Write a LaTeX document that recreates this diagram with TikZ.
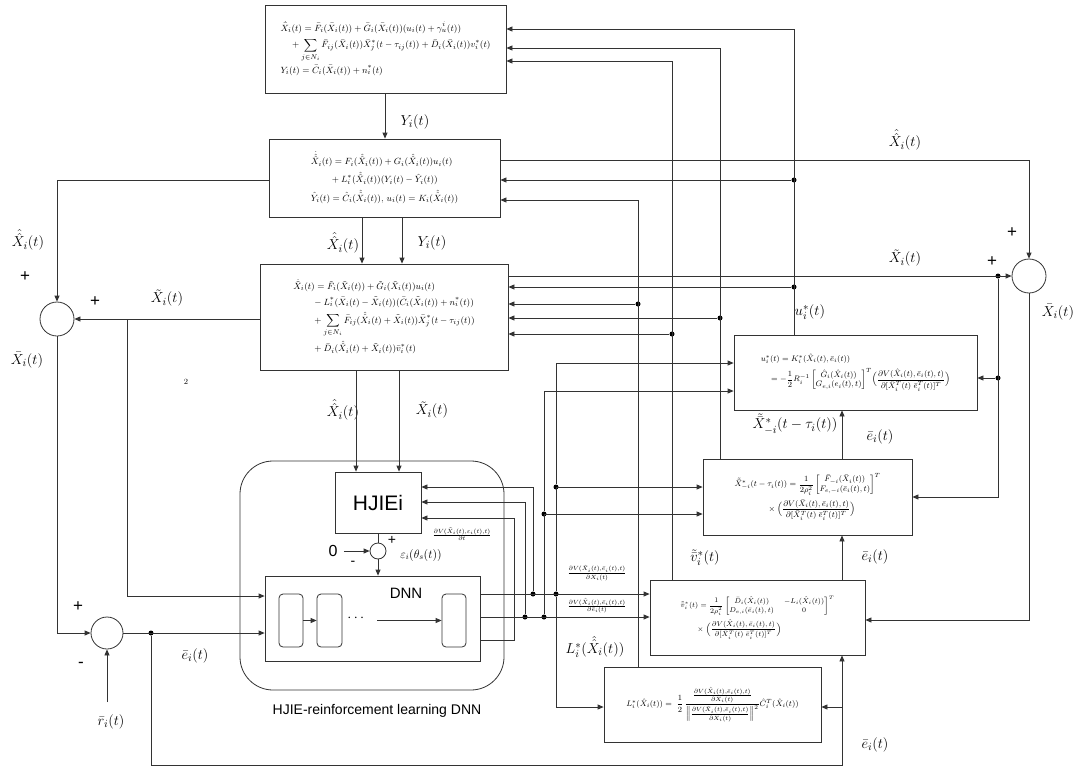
\documentclass[tikz,border=0pt]{standalone}
\usepackage{amsmath}
\usepackage{fontspec}
\newfontfamily\sansf{Liberation Sans}
\usetikzlibrary{arrows.meta,calc}
\begin{document}
\begin{tikzpicture}[x=1pt,y=-1pt,
 line width=0.8pt, draw=black!80,
 arr/.style={-{Triangle[length=6pt,width=5pt]}},
 box/.style={draw, rectangle, inner sep=2pt},
 sumc/.style={draw, circle, inner sep=0},
 dot/.style={circle, fill=black, inner sep=0, minimum size=5pt},
 lab/.style={font=\fontsize{15}{18}\selectfont, inner sep=1pt},
 eqa/.style={font=\fontsize{9.5}{11}\selectfont},
 eqb/.style={font=\fontsize{8}{9.5}\selectfont},
 sgn/.style={font=\sansf\fontsize{17}{17}\selectfont, inner sep=0},
 sml/.style={font=\fontsize{8}{9}\selectfont, inner sep=0},
]
\useasboundingbox (0,0) rectangle (1079,771);
\fill[white] (0,0) rectangle (1079,771);

% container
\node[draw, rounded corners=33pt, minimum width=264pt, minimum height=229pt] (C) at (372,575.5) {};

% boxes
\node[box, eqa, minimum width=241pt, minimum height=88pt] (B1) at (385.5,49) {$\begin{aligned}
&\dot{\bar X}_i(t)=\bar F_i(\bar X_i(t))+\bar G_i(\bar X_i(t))(u_i(t)+\gamma_u^i(t))\\
&\quad+\sum_{j\in N_i}\bar F_{ij}(\bar X_i(t))\bar X_j^*(t-\tau_{ij}(t))+\bar D_i(\bar X_i(t))v_i^*(t)\\
&Y_i(t)=\bar C_i(\bar X_i(t))+n_i^*(t)
\end{aligned}$};

\node[box, eqa, minimum width=231pt, minimum height=78pt] (B2) at (384.5,178) {$\begin{aligned}
&\dot{\hat{\hat X}}_i(t)=F_i(\hat{\hat X}_i(t))+G_i(\hat{\hat X}_i(t))u_i(t)\\
&\qquad+L_i^*(\hat{\hat X}_i(t))(Y_i(t)-\hat Y_i(t))\\
&\hat Y_i(t)=\hat C_i(\hat{\hat X}_i(t)),\,u_i(t)=K_i(\hat{\hat X}_i(t))
\end{aligned}$};

\node[box, eqa, minimum width=248pt, minimum height=106pt] (B3) at (384,317) {$\begin{aligned}
&\dot{\tilde X}_i(t)=\tilde F_i(\tilde X_i(t))+\tilde G_i(\tilde X_i(t))u_i(t)\\
&\qquad-L_i^*(\bar X_i(t)-\tilde X_i(t))(\bar C_i(\tilde X_i(t))+n_i^*(t))\\
&\qquad+\sum_{j\in N_i}\bar F_{ij}(\hat{\hat X}_i(t)+\tilde X_i(t))\bar X_j^*(t-\tau_{ij}(t))\\
&\qquad+\bar D_i(\hat{\hat X}_i(t)+\tilde X_i(t))\bar v_i^*(t)
\end{aligned}$};

\node[box, eqb, minimum width=243pt, minimum height=75pt] (U) at (855.5,372.5) {$\begin{aligned}
&u_i^*(t)=K_i^*(\hat X_i(t),\bar e_i(t))\\
&\quad=-\frac12 R_i^{-1}\begin{bmatrix}\hat G_i(\hat X_i(t))\\ G_{e,i}(e_i(t),t)\end{bmatrix}^T\!\Big(\frac{\partial V(\hat X_i(t),\bar e_i(t),t)}{\partial[\hat X_i^T(t)\;\bar e_i^T(t)]^T}\Big)
\end{aligned}$};

\node[box, eqb, minimum width=209pt, minimum height=76pt] (X) at (807.5,497) {$\begin{aligned}
&\tilde{\bar X}^*_{-i}(t-\tau_i(t))=\frac{1}{2\rho_i^2}\begin{bmatrix}\bar F_{-i}(\bar X_i(t))\\ F_{e,-i}(\bar e_i(t),t)\end{bmatrix}^T\\
&\qquad\qquad\times\Big(\frac{\partial V(\bar X_i(t),\bar e_i(t),t)}{\partial[\bar X_i^T(t)\;\bar e_i^T(t)]^T}\Big)
\end{aligned}$};

\node[box, font=\fontsize{7.5}{9}\selectfont, inner sep=1pt, minimum width=215pt, minimum height=75pt] (V) at (757.5,617.5) {$\begin{aligned}
&\tilde{\bar v}_i^*(t)=\frac{1}{2\rho_i^2}\begin{bmatrix}\bar D_i(\hat X_i(t)) & -L_i(\hat X_i(t))\\ D_{e,i}(\bar e_i(t),t) & 0\end{bmatrix}^T\\
&\qquad\times\Big(\frac{\partial V(\hat X_i(t),\bar e_i(t),t)}{\partial[\bar X_i^T(t)\;\bar e_i^T(t)]^T}\Big)
\end{aligned}$};

\node[box, eqb, minimum width=217pt, minimum height=75pt] (L) at (712.5,704.5) {$L_i^*(\hat X_i(t))=\;\dfrac12\,\dfrac{\frac{\partial V(\hat X_i(t),\bar e_i(t),t)}{\partial\hat X_i(t)}}{\Big\|\frac{\partial V(\hat X_i(t),\bar e_i(t),t)}{\partial\hat X_i(t)}\Big\|^2}\hat C_i^T(\hat X_i(t))$};

\node[box, minimum width=86pt, minimum height=61pt, font=\sansf\fontsize{21}{21}\selectfont] (H) at (378,502.5) {HJIEi};
\node[box, minimum width=215pt, minimum height=85pt] (D) at (372.5,618.5) {};
\node[font=\sansf\fontsize{15}{15}\selectfont, inner sep=0] (Dlab) at (406,593) {DNN};
\node[draw, rounded corners=4pt, minimum width=24pt, minimum height=53pt] (L1) at (291,620.5) {};
\node[draw, rounded corners=4pt, minimum width=25pt, minimum height=53pt] (L2) at (329.5,620.5) {};
\node[draw, rounded corners=4pt, minimum width=24pt, minimum height=53pt] (L3) at (454,620.5) {};
\node[font=\fontsize{14}{14}\selectfont, inner sep=0] (dots) at (357,618) {$\cdots$};
\coordinate (da) at (377,620.5);
\draw[arr] (L1.east) -- (L2.west);
\draw[arr] (da) -- (L3.west);

% sum junctions
\node[sumc, minimum size=34pt] (S1) at (57,319) {};
\node[sumc, minimum size=32pt] (S2) at (107,633) {};
\node[sumc, minimum size=34pt] (S3) at (1029,276) {};
\node[sumc, minimum size=16pt] (S4) at (378,551) {};

% text labels
\node[lab] (lY1) at (415,122) {$Y_i(t)$};
\node[lab] (lXh2) at (343,243) {$\hat{\hat X}_i(t)$};
\node[lab] (lY2) at (432,243) {$Y_i(t)$};
\node[lab] (lXhR) at (905,140) {$\hat{\hat X}_i(t)$};
\node[lab] (lXtR) at (905,258) {$\tilde X_i(t)$};
\node[sgn] (p3a) at (1012,233) {+};
\node[sgn] (p3b) at (992,262) {+};
\node[lab] (lXbR) at (1058,312) {$\bar X_i(t)$};
\node[lab] (lu) at (810,312) {$u_i^*(t)$};
\node[lab] (lXs) at (795,424) {$\tilde{\bar X}^*_{-i}(t-\tau_i(t))$};
\node[lab] (le1) at (880,437) {$\bar e_i(t)$};
\node[lab] (le2) at (875,557) {$\bar e_i(t)$};
\node[lab] (lv) at (705,558) {$\tilde{\bar v}_i^*(t)$};
\node[lab] (le3) at (875,745) {$\bar e_i(t)$};
\node[lab] (lXh3) at (343,410) {$\hat{\hat X}_i(t)$};
\node[lab] (lXt3) at (432,410) {$\tilde X_i(t)$};
\node[lab] (lL) at (595,647) {$L_i^*(\hat{\hat X}_i(t))$};
\node[lab] (le4) at (195,656) {$\bar e_i(t)$};
\node[lab] (lr) at (111,722) {$\bar r_i(t)$};
\node[lab] (lXhL) at (28,240) {$\hat{\hat X}_i(t)$};
\node[lab] (lXtL) at (167,298) {$\tilde X_i(t)$};
\node[lab] (lXbL) at (27,360) {$\bar X_i(t)$};
\node[sgn] (p1a) at (25,277) {+};
\node[sgn] (p1b) at (95,302) {+};
\node[sgn] (p2a) at (78,607) {+};
\node[sgn] (p2b) at (81,665) {-};
\node[font=\fontsize{8}{8}\selectfont, inner sep=0] (two) at (186,382) {2};
\node[font=\sansf\fontsize{16}{16}\selectfont, inner sep=0] (zero) at (333,551) {0};
\node[sgn, font=\sansf\fontsize{14}{14}\selectfont] (p4a) at (392,540) {+};
\node[sgn, font=\sansf\fontsize{14}{14}\selectfont] (p4b) at (353,563) {-};
\node[font=\fontsize{12}{14}\selectfont, inner sep=0] (leps) at (421,555) {$\varepsilon_i(\theta_s(t))$};
\node[sml] (ldt) at (462,534) {$\frac{\partial V(\tilde X_i(t),\varepsilon_i(t),t)}{\partial t}$};
\node[sml] (ldx) at (597,573) {$\frac{\partial V(\hat X_i(t),\bar e_i(t),t)}{\partial\hat X_i(t)}$};
\node[sml] (lde) at (597,606) {$\frac{\partial V(\hat X_i(t),\bar e_i(t),t)}{\partial\bar e_i(t)}$};
\node[font=\sansf\fontsize{14}{14}\selectfont, inner sep=0] (cap) at (377,711) {HJIE-reinforcement learning DNN};

% ---- connectors: left / top part
\draw[arr] (B1.south -| 385,0) -- (B2.north -| 385,0);
\draw[arr] (B2.south -| 362,0) -- (B3.north -| 362,0);
\draw[arr] (B2.south -| 402,0) -- (B3.north -| 402,0);
\draw[arr] (B2.east |- 0,160) -| (S3.north);
\node[dot] (dXt) at (998,276) {};
\draw[arr] (B3.east |- 0,276) -- (S3.west);
\draw[arr] (B2.west |- 0,180) -| (S1.north);
\draw[arr] (B3.west |- 0,319) -- (S1.east);
\draw[arr] (127,319) |- (D.west |- 0,596);
\draw[arr] (S1.south) |- (S2.west);
\coordinate (rin) at (107,702);
\draw[arr] (rin) -- (S2.south);
\node[dot] (dE) at (151,633) {};
\draw[arr] (S2.east) -- (D.west |- S2.east);
\draw[arr] (dE) -- (151,765) -| (V.south -| 842,0);
\coordinate (eL) at (842,707);
\draw[arr] (eL) -- (L.east |- eL);
\draw[arr] (B3.south -| 356,0) -- (H.north -| 356,0);
\draw[arr] (B3.south -| 399,0) -- (H.north -| 399,0);
\draw (H.south) -- (S4.north);
\draw[arr] (S4.south) -- (D.north -| S4.south);
\draw[arr, shorten <=6pt] (zero.east) -- (S4.west);

% ---- DNN outputs
\node[dot] (d1) at (533,594) {};
\node[dot] (d2) at (556,594) {};
\node[dot] (d3) at (525,617) {};
\node[dot] (d4) at (544,617) {};
\draw[arr] (D.east |- 0,594) -- (V.west |- 0,594);
\draw[arr] (D.east |- 0,617) -- (V.west |- 0,617);
\draw[arr] (D.east |- 0,640) -| (514,518) -- (H.east |- 0,518);
\draw[arr] (d1) |- (H.east |- 0,487);
\draw[arr] (d3) |- (H.east |- 0,502);
\node[dot] (d5) at (556,487) {};
\node[dot] (d6) at (544,514) {};
\draw[arr] (d2) |- (L.west |- 0,707);
\draw[arr] (d2) |- (X.west |- 0,487);
\draw[arr] (d5) |- (U.west |- 0,363);
\draw[arr] (d4) |- (X.west |- 0,514);
\draw[arr] (d6) |- (U.west |- 0,391);

% ---- outputs of right boxes back to the left boxes
\node[dot] (dL) at (638,304) {};
\draw[arr] (L.north -| 638,0) |- (B2.east |- 0,200);
\draw[arr] (dL) -- (B3.east |- 0,304);
\node[dot] (dV) at (672,334) {};
\draw[arr] (V.north -| 672,0) |- (B1.east |- 0,61);
\draw[arr] (dV) -- (B3.east |- 0,334);
\node[dot] (dX) at (720,318) {};
\draw[arr] (X.north -| 720,0) |- (B1.east |- 0,48);
\draw[arr] (dX) -- (B3.east |- 0,318);
\node[dot] (dU1) at (794,180) {};
\node[dot] (dU2) at (794,287) {};
\draw[arr] (U.north -| 794,0) |- (B1.east |- 0,29);
\draw[arr] (dU1) -- (B2.east |- 0,180);
\draw[arr] (dU2) -- (B3.east |- 0,287);

% ---- e-bar chain
\draw[arr] (V.north -| 842,0) -- (X.south -| 842,0);
\draw[arr] (X.north -| 842,0) -- (U.south -| 842,0);

% ---- right bus
\node[dot] (dR1) at (998,378) {};
\draw[arr] (dR1) -- (U.east |- dR1);
\draw[arr] (dXt) |- (X.east |- 0,497);
\draw[arr] (S3.south) |- (V.east |- 0,620);
\end{tikzpicture}
\end{document}
